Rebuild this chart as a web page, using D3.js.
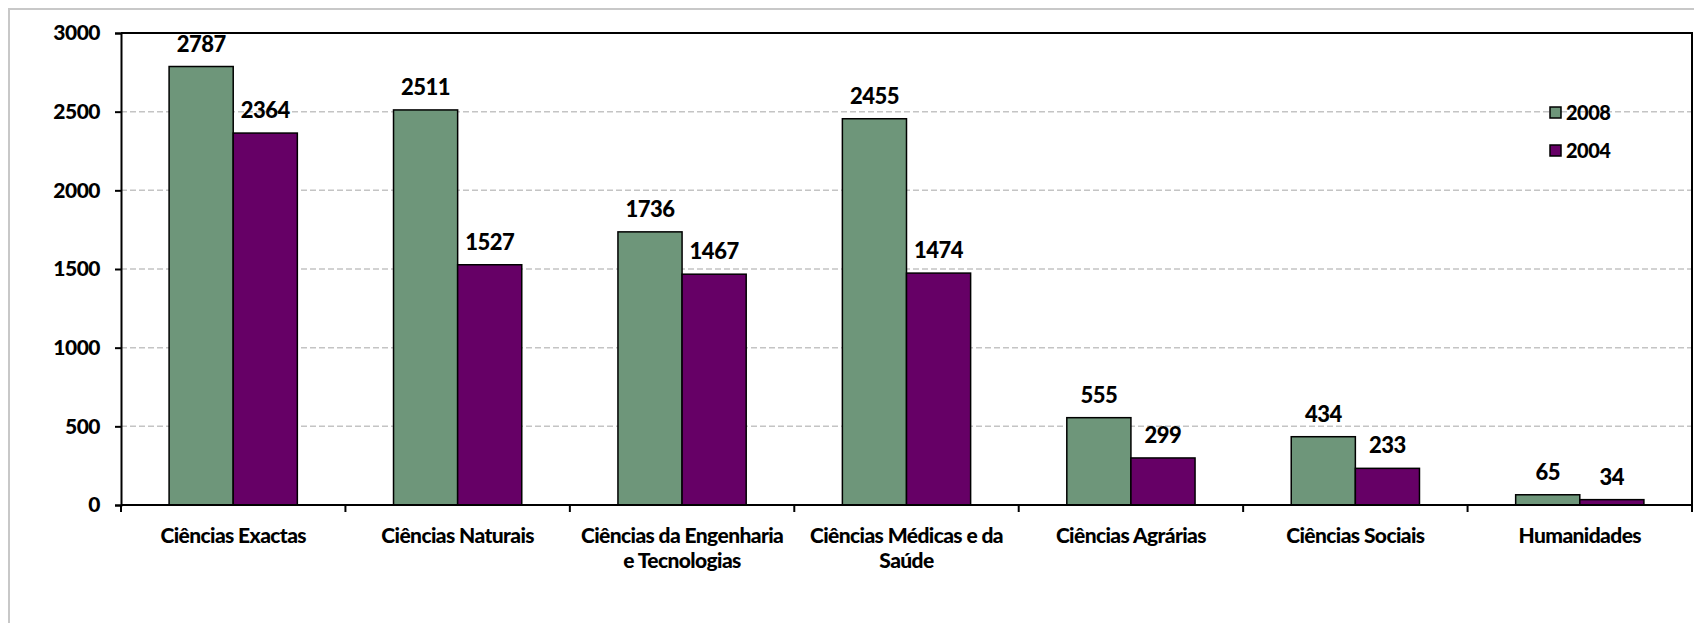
<!DOCTYPE html>
<html lang="pt">
<head>
<meta charset="utf-8">
<style>
  body { margin: 0; background: #fff; }
  svg text { font-family: Lato, "Open Sans", sans-serif; font-weight: 900; fill: #000; }
  .grid line { stroke: #c4c4c4; stroke-width: 1.5; stroke-dasharray: 6,3; }
  .bar { stroke: #000; stroke-width: 1.5; }
</style>
<script src="https://cdn.jsdelivr.net/npm/d3@7"></script>
</head>
<body>
<svg width="1694" height="623"></svg>
<script>
// categories (tick labels; "\n" marks a line break)
var categories = [
  "Ciências Exactas",
  "Ciências Naturais",
  "Ciências da Engenharia\ne Tecnologias",
  "Ciências Médicas e da\nSaúde",
  "Ciências Agrárias",
  "Ciências Sociais",
  "Humanidades"
];
var series = ["2008", "2004"];
var values2008 = [2787, 2511, 1736, 2455, 555, 434, 65];
var values2004 = [2364, 1527, 1467, 1474, 299, 233, 34];
var yTicks = [0, 500, 1000, 1500, 2000, 2500, 3000];
var colors = ["#6e967a", "#660066"];

var svg = d3.select("svg");
var plotLeft = 121, plotRight = 1692, plotTop = 33, plotBottom = 505;

// light frame of the chart area
svg.append("path")
    .attr("d", "M9,623 L9,9 L1694,9")
    .attr("fill", "none")
    .attr("stroke", "#c8c8c8")
    .attr("stroke-width", 2);

var x0 = d3.scaleBand().domain(d3.range(categories.length)).range([plotLeft, plotRight]).padding(0);
var x1 = d3.scaleBand().domain(series).range([0, x0.bandwidth()]).paddingInner(0).paddingOuter(0.75);
var y = d3.scaleLinear().domain([0, 3000]).range([plotBottom, plotTop]);

// gridlines
svg.append("g").attr("class", "grid")
  .selectAll("line")
  .data(yTicks.filter(function(d) { return d > 0 && d < 3000; }))
  .enter().append("line")
    .attr("x1", plotLeft).attr("x2", plotRight)
    .attr("y1", function(d) { return y(d); })
    .attr("y2", function(d) { return y(d); });

// bars
var rows = categories.map(function(c, i) {
  return [{ s: "2008", v: values2008[i], i: i }, { s: "2004", v: values2004[i], i: i }];
});

var groups = svg.append("g").selectAll("g")
  .data(rows)
  .enter().append("g")
    .attr("transform", function(d, i) { return "translate(" + x0(i) + ",0)"; });

groups.selectAll("rect")
  .data(function(d) { return d; })
  .enter().append("rect")
    .attr("class", "bar")
    .attr("x", function(d) { return x1(d.s); })
    .attr("width", x1.bandwidth())
    .attr("y", function(d) { return y(d.v); })
    .attr("height", function(d) { return y(0) - y(d.v); })
    .attr("fill", function(d) { return colors[series.indexOf(d.s)]; });

groups.selectAll("text")
  .data(function(d) { return d; })
  .enter().append("text")
    .attr("x", function(d) { return x1(d.s) + x1.bandwidth() / 2; })
    .attr("y", function(d) { return y(d.v) - 15; })
    .attr("text-anchor", "middle")
    .style("font-size", "22px")
    .style("letter-spacing", "-0.5px")
    .text(function(d) { return d.v; });

// plot border (top / right)
svg.append("path")
    .attr("d", "M" + plotLeft + "," + plotTop + " L" + plotRight + "," + plotTop + " L" + plotRight + "," + (plotBottom + 7))
    .attr("fill", "none")
    .attr("stroke", "#000")
    .attr("stroke-width", 2);

// y axis
var yAxis = svg.append("g")
    .attr("transform", "translate(" + plotLeft + ",0)")
    .call(d3.axisLeft(y).tickValues(yTicks).tickSize(6).tickPadding(15).tickFormat(d3.format("d")));
yAxis.select(".domain").attr("stroke", "#000").attr("stroke-width", 2);
yAxis.selectAll(".tick line").attr("stroke", "#000").attr("stroke-width", 2);
yAxis.selectAll(".tick text")
    .style("font-family", "Lato, sans-serif")
    .style("font-weight", 900)
    .style("font-size", "21px")
    .style("letter-spacing", "-0.5px");

// x axis: ticks at category boundaries
var bounds = d3.range(categories.length + 1).map(function(i) {
  return i < categories.length ? x0(i) : plotRight;
});
var xAxis = svg.append("g");
xAxis.append("line")
    .attr("x1", plotLeft).attr("x2", plotRight)
    .attr("y1", plotBottom).attr("y2", plotBottom)
    .attr("stroke", "#000").attr("stroke-width", 2);
xAxis.selectAll(".xt")
  .data(bounds)
  .enter().append("line")
    .attr("class", "xt")
    .attr("x1", function(d) { return d; }).attr("x2", function(d) { return d; })
    .attr("y1", plotBottom).attr("y2", plotBottom + 7)
    .attr("stroke", "#000").attr("stroke-width", 2);

var catText = xAxis.selectAll(".cat")
  .data(categories)
  .enter().append("text")
    .attr("class", "cat")
    .attr("text-anchor", "middle")
    .style("font-size", "21px")
    .style("letter-spacing", "-0.6px");
catText.selectAll("tspan")
  .data(function(d, i) { return d.split("\n").map(function(t) { return { t: t, i: i }; }); })
  .enter().append("tspan")
    .attr("x", function(d) { return x0(d.i) + x0.bandwidth() / 2; })
    .attr("y", function(d, j) { return 543 + j * 25; })
    .text(function(d) { return d.t; });

// legend
var legend = svg.append("g").selectAll("g")
  .data(series)
  .enter().append("g")
    .attr("transform", function(d, i) { return "translate(1550," + (107 + i * 38) + ")"; });
legend.append("rect")
    .attr("width", 11).attr("height", 11)
    .attr("fill", function(d, i) { return colors[i]; })
    .attr("stroke", "#000").attr("stroke-width", 1.5);
legend.append("text")
    .attr("x", 16).attr("y", 5.5).attr("dy", "0.35em")
    .style("font-size", "20px")
    .style("letter-spacing", "-0.5px")
    .text(function(d) { return d; });
</script>
</body>
</html>
